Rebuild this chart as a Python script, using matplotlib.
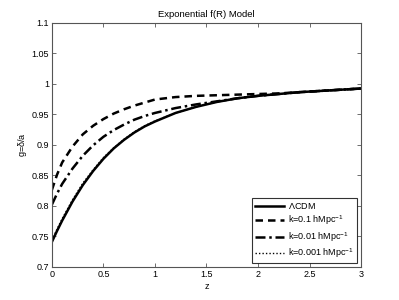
import matplotlib
matplotlib.use("Agg")
import matplotlib.pyplot as plt

plt.rcParams["font.family"] = ["Liberation Sans", "DejaVu Sans"]
plt.rcParams["mathtext.fontset"] = "custom"
plt.rcParams["mathtext.rm"] = "Liberation Sans"
plt.rcParams["mathtext.it"] = "Liberation Sans"

# redshift grid
Z = [0.0, 0.05, 0.1, 0.2, 0.3, 0.4, 0.5, 0.6, 0.7, 0.8, 0.9, 1.0,
     1.2, 1.4, 1.6, 1.8, 2.0, 2.2, 2.4, 2.6, 2.8, 3.0]

G_LCDM = [0.741, 0.759, 0.776, 0.807, 0.834, 0.857, 0.877, 0.894, 0.908, 0.920, 0.930, 0.938,
          0.952, 0.962, 0.970, 0.976, 0.980, 0.983, 0.986, 0.988, 0.990, 0.992]
G_K01 = [0.826, 0.851, 0.871, 0.897, 0.917, 0.931, 0.942, 0.951, 0.958, 0.964, 0.969, 0.974,
         0.978, 0.980, 0.981, 0.982, 0.983, 0.984, 0.986, 0.988, 0.990, 0.992]
G_K001 = [0.802, 0.820, 0.836, 0.861, 0.882, 0.899, 0.913, 0.924, 0.933, 0.941, 0.947, 0.952,
          0.960, 0.966, 0.971, 0.976, 0.980, 0.983, 0.986, 0.988, 0.990, 0.992]
G_K0001 = [0.744, 0.762, 0.779, 0.810, 0.837, 0.859, 0.879, 0.895, 0.909, 0.921, 0.931, 0.939,
           0.952, 0.962, 0.970, 0.976, 0.980, 0.983, 0.986, 0.988, 0.990, 0.992]

LABELS = [r"$\Lambda$CDM", r"k=0.1 hMpc$^{-1}$", r"k=0.01 hMpc$^{-1}$", r"k=0.001 hMpc$^{-1}$"]

fig = plt.figure(figsize=(3.99, 3.0), dpi=100)
ax = fig.add_axes([0.13, 0.11, 0.775, 0.815])

ax.plot(Z, G_LCDM, "-", color="black", lw=1.8, label=LABELS[0])
ax.plot(Z, G_K01, color="black", lw=1.8, linestyle=(0, (3, 2)), label=LABELS[1])
ax.plot(Z, G_K001, color="black", lw=1.8, linestyle=(0, (4, 1.5, 1, 1.5)), label=LABELS[2])
ax.plot(Z, G_K0001, color="black", lw=1.0, linestyle=(0, (1, 1.5)), label=LABELS[3])

ax.set_xlim(0, 3)
ax.set_ylim(0.7, 1.1)
ax.set_xticks([0, 0.5, 1, 1.5, 2, 2.5, 3])
ax.set_xticklabels(["0", "0.5", "1", "1.5", "2", "2.5", "3"])
ax.set_yticks([0.7, 0.75, 0.8, 0.85, 0.9, 0.95, 1.0, 1.05, 1.1])
ax.set_yticklabels(["0.7", "0.75", "0.8", "0.85", "0.9", "0.95", "1", "1.05", "1.1"])
ax.tick_params(direction="in", top=True, right=True, labelsize=6.5,
               length=3, width=0.6, color="#555555", pad=2)
for sp in ax.spines.values():
    sp.set_color("#555555")
    sp.set_linewidth(0.8)

ax.set_xlabel("z", fontsize=6.5, labelpad=2)
ax.set_ylabel(r"g=$\delta$/a", fontsize=6.5, labelpad=2)
ax.set_title("Exponential f(R) Model", fontsize=6.8, pad=4)

leg = ax.legend(loc="lower right", fontsize=6.5, frameon=True, fancybox=False,
                edgecolor="black", handlelength=3.2, borderaxespad=0.4,
                labelspacing=0.3, borderpad=0.35, handletextpad=0.5)
leg.get_frame().set_linewidth(0.8)

fig.savefig("out.png", dpi=100, facecolor="white")
